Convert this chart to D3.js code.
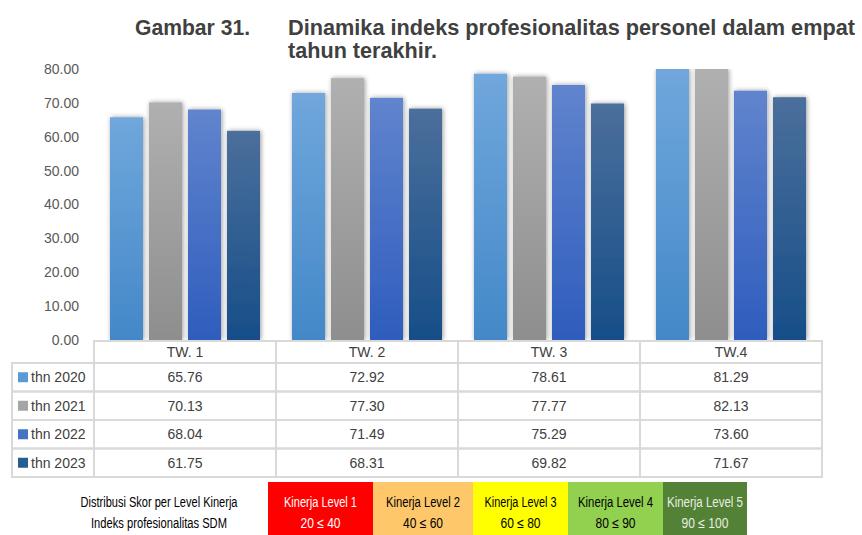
<!DOCTYPE html>
<html>
<head>
<meta charset="utf-8">
<script src="https://cdn.jsdelivr.net/npm/d3@7/dist/d3.min.js"></script>
<style>
  html, body { margin: 0; padding: 0; background: #fff; }
  svg { display: block; font-family: "Liberation Sans", Arial, sans-serif; }
</style>
</head>
<body>
<svg id="chart" width="862" height="535"></svg>
<script>
// ---- DATA ----
const categories = ["TW. 1", "TW. 2", "TW. 3", "TW.4"];
const seriesNames = ["thn 2020", "thn 2021", "thn 2022", "thn 2023"];
const values2020 = [65.76, 72.92, 78.61, 81.29];
const values2021 = [70.13, 77.30, 77.77, 82.13];
const values2022 = [68.04, 71.49, 75.29, 73.60];
const values2023 = [61.75, 68.31, 69.82, 71.67];
const yTicks = [0, 10, 20, 30, 40, 50, 60, 70, 80];
const levelNames = ["Kinerja Level 1", "Kinerja Level 2", "Kinerja Level 3", "Kinerja Level 4", "Kinerja Level 5"];
const levelRanges = ["20 \u2264 40", "40 \u2264 60", "60 \u2264 80", "80 \u2264 90", "90 \u2264 100"];
const titleLabel = "Gambar 31.";
const titleLine1 = "Dinamika indeks profesionalitas personel dalam empat";
const titleLine2 = "tahun terakhir.";
const legendCaption = ["Distribusi Skor per Level Kinerja", "Indeks profesionalitas SDM"];

const seriesValues = [values2020, values2021, values2022, values2023];

// ---- STYLE ----
const gradTop = ["#70a7dc", "#b0b0b0", "#6184cd", "#4b6f9c"];
const gradBot = ["#4388c8", "#8e8e8e", "#2e5dbd", "#164e88"];
const legendSwatch = ["#5b9bd5", "#a5a5a5", "#4472c4", "#255e91"];
const levelFill = ["#ff0000", "#fec86a", "#ffff00", "#92d050", "#538135"];
const levelText = ["#ffffff", "#000000", "#000000", "#000000", "#e8eee4"];
const levelEdges = [268, 373, 473, 568, 663, 747];
const levelNameLen = [73, 74, 72, 75, 76];
const levelRangeLen = [40, 40, 40, 40, 47];
const captionLen = [157, 136];

const svg = d3.select("#chart");
const defs = svg.append("defs");

seriesNames.forEach((s, i) => {
  const g = defs.append("linearGradient").attr("id", "grad" + i)
    .attr("x1", 0).attr("y1", 0).attr("x2", 0).attr("y2", 1);
  g.append("stop").attr("offset", "0%").attr("stop-color", gradTop[i]);
  g.append("stop").attr("offset", "100%").attr("stop-color", gradBot[i]);
});

const f = defs.append("filter").attr("id", "shadow")
  .attr("x", "-30%").attr("y", "-10%").attr("width", "160%").attr("height", "120%");
f.append("feGaussianBlur").attr("in", "SourceAlpha").attr("stdDeviation", 2.5).attr("result", "blur");
f.append("feOffset").attr("in", "blur").attr("dx", 1).attr("dy", 0).attr("result", "off");
f.append("feComponentTransfer").attr("in", "off").attr("result", "soft")
  .append("feFuncA").attr("type", "linear").attr("slope", 0.4);
const fm = f.append("feMerge");
fm.append("feMergeNode").attr("in", "soft");
fm.append("feMergeNode").attr("in", "SourceGraphic");

// ---- SCALES ----
const tableLeft = 94, tableRight = 822;
const x0 = d3.scaleBand().domain(categories).range([tableLeft, tableRight]).padding(0);
const x1 = d3.scaleBand().domain(seriesNames).range([0, x0.bandwidth()])
  .paddingInner(0.154).paddingOuter(0.41);
const y = d3.scaleLinear().domain([0, 80]).range([340, 69]);

defs.append("clipPath").attr("id", "plotclip")
  .append("rect").attr("x", 0).attr("y", y(80)).attr("width", 862).attr("height", y(0) - y(80) + 2);

// ---- TITLE ----
const titleColor = "#404040";
svg.append("text").attr("x", 135).attr("y", 35)
  .attr("font-size", 22).attr("font-weight", "bold").attr("fill", titleColor)
  .attr("textLength", 115).attr("lengthAdjust", "spacingAndGlyphs")
  .text(titleLabel);
svg.append("text").attr("x", 288).attr("y", 35)
  .attr("font-size", 22).attr("font-weight", "bold").attr("fill", titleColor)
  .attr("textLength", 567).attr("lengthAdjust", "spacingAndGlyphs")
  .text(titleLine1);
svg.append("text").attr("x", 288).attr("y", 58)
  .attr("font-size", 22).attr("font-weight", "bold").attr("fill", titleColor)
  .attr("textLength", 149).attr("lengthAdjust", "spacingAndGlyphs")
  .text(titleLine2);

// ---- Y AXIS ----
const yAxis = d3.axisLeft(y).tickValues(yTicks).tickFormat(d3.format(".2f")).tickSize(0).tickPadding(0);
const ya = svg.append("g").attr("transform", "translate(79,0)").call(yAxis);
ya.select(".domain").remove();
ya.selectAll("text").attr("font-size", 14).attr("fill", "#595959")
  .attr("font-family", "Liberation Sans, Arial, sans-serif");

// ---- BARS ----
const barsG = svg.append("g").attr("clip-path", "url(#plotclip)");
const groups = barsG.selectAll("g.grp").data(categories).join("g")
  .attr("class", "grp")
  .attr("transform", d => `translate(${x0(d)},0)`);
groups.selectAll("rect").data((c, ci) => seriesNames.map((s, si) => ({ s, si, v: seriesValues[si][ci] })))
  .join("rect")
  .attr("x", d => x1(d.s))
  .attr("width", x1.bandwidth())
  .attr("y", d => y(Math.min(d.v, 80)))
  .attr("height", d => y(0) - y(Math.min(d.v, 80)))
  .attr("fill", d => `url(#grad${d.si})`)
  .attr("filter", "url(#shadow)");

// ---- DATA TABLE ----
const borderColor = "#d9d9d9";
const headerTop = 341, headerBottom = 363, rowH = 28.5;
const rowY = i => headerBottom + i * rowH;
const tableBottom = rowY(seriesNames.length);
const tg = svg.append("g").attr("stroke", borderColor).attr("stroke-width", 2).attr("fill", "none");
tg.append("rect").attr("x", tableLeft).attr("y", headerTop)
  .attr("width", tableRight - tableLeft).attr("height", headerBottom - headerTop);
seriesNames.forEach((s, i) => {
  tg.append("rect").attr("x", 12).attr("y", rowY(i))
    .attr("width", tableRight - 12).attr("height", rowH);
});
categories.forEach(c => {
  tg.append("line").attr("x1", x0(c)).attr("x2", x0(c)).attr("y1", headerTop).attr("y2", tableBottom);
});

const textColor = "#404040";
svg.append("g").selectAll("text").data(categories).join("text")
  .attr("x", d => x0(d) + x0.bandwidth() / 2)
  .attr("y", (headerTop + headerBottom) / 2 + 5)
  .attr("text-anchor", "middle").attr("font-size", 14).attr("fill", textColor)
  .text(d => d);

seriesNames.forEach((s, si) => {
  const cy = rowY(si) + rowH / 2;
  svg.append("rect").attr("x", 18).attr("y", cy - 5).attr("width", 10).attr("height", 10)
    .attr("fill", legendSwatch[si]);
  svg.append("text").attr("x", 31).attr("y", cy + 5)
    .attr("font-size", 14).attr("fill", textColor).text(s);
  svg.append("g").selectAll("text").data(categories).join("text")
    .attr("x", d => x0(d) + x0.bandwidth() / 2)
    .attr("y", cy + 5)
    .attr("text-anchor", "middle").attr("font-size", 14).attr("fill", textColor)
    .text((d, ci) => d3.format(".2f")(seriesValues[si][ci]));
});

// ---- LEVEL LEGEND ----
const levTop = 482, levBottom = 535;
legendCaption.forEach((t, i) => {
  svg.append("text").attr("x", 159).attr("y", 507 + i * 21)
    .attr("text-anchor", "middle").attr("font-size", 14).attr("fill", "#000")
    .attr("textLength", captionLen[i]).attr("lengthAdjust", "spacingAndGlyphs")
    .text(t);
});
levelNames.forEach((n, i) => {
  const xL = levelEdges[i], xR = levelEdges[i + 1];
  svg.append("rect").attr("x", xL).attr("y", levTop).attr("width", xR - xL).attr("height", levBottom - levTop)
    .attr("fill", levelFill[i]);
  const cx = (xL + xR) / 2;
  svg.append("text").attr("x", cx).attr("y", 507).attr("text-anchor", "middle")
    .attr("font-size", 14).attr("fill", levelText[i])
    .attr("textLength", levelNameLen[i]).attr("lengthAdjust", "spacingAndGlyphs").text(n);
  svg.append("text").attr("x", cx).attr("y", 528).attr("text-anchor", "middle")
    .attr("font-size", 14).attr("fill", levelText[i])
    .attr("textLength", levelRangeLen[i]).attr("lengthAdjust", "spacingAndGlyphs").text(levelRanges[i]);
});
</script>
</body>
</html>
